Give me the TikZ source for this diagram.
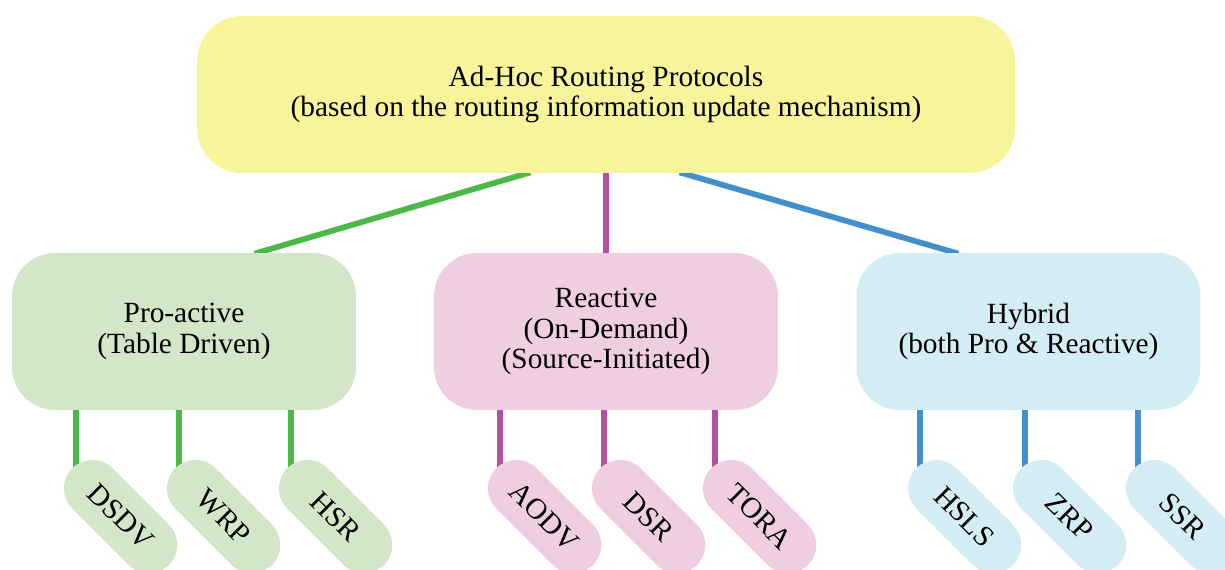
\documentclass[tikz,border=0pt]{standalone}
\usepackage{fontspec}
\setmainfont{Liberation Serif}
\usepackage{tikz}
\usetikzlibrary{shapes.misc,backgrounds}

\definecolor{topfill}{HTML}{F7F49C}
\definecolor{profill}{HTML}{D3E7C8}
\definecolor{reafill}{HTML}{EFCEE2}
\definecolor{hybfill}{HTML}{D4EDF4}
\definecolor{proline}{HTML}{4CB848}
\definecolor{realine}{HTML}{B5509E}
\definecolor{hybline}{HTML}{428FCC}

\tikzset{
  box/.style={rounded corners=0.86cm, minimum width=6.88cm, minimum height=3.14cm,
    align=center, font=\fontsize{16.7}{17.5}\selectfont},
  leaf/.style={rounded rectangle, minimum width=2.97cm, minimum height=1.14cm,
    rotate=-45, anchor=west, font=\fontsize{16.7}{17.5}\selectfont},
  link/.style={line width=0.115cm, shorten <=-2pt, shorten >=-2pt},
}

\begin{document}
\begin{tikzpicture}[x=0.02cm,y=-0.02cm]
  \path[use as bounding box, clip] (0,0) rectangle (1225,569);

  % glowny wezel
  \node[box, fill=topfill, minimum width=16.36cm, rounded corners=0.9cm] (top) at (606,94.5)
    {Ad-Hoc Routing Protocols\\(based on the routing information update mechanism)};

  % kategorie
  \node[box, fill=profill] (pro) at (184,331.5) {Pro-active\\(Table Driven)};
  \node[box, fill=reafill] (rea) at (606,331.5) {Reactive\\(On-Demand)\\(Source-Initiated)};
  \node[box, fill=hybfill] (hyb) at (1028.5,331.5) {Hybrid\\(both Pro \& Reactive)};

  % protokoly
  \node[leaf, fill=profill] (dsdv) at (72,468) {DSDV};
  \node[leaf, fill=profill] (wrp)  at (175,468) {WRP};
  \node[leaf, fill=profill] (hsr)  at (287,468) {HSR};
  \node[leaf, fill=reafill] (aodv) at (496,468) {AODV};
  \node[leaf, fill=reafill] (dsr)  at (600,468) {DSR};
  \node[leaf, fill=reafill] (tora) at (711,468) {TORA};
  \node[leaf, fill=hybfill] (hsls) at (916,468) {HSLS};
  \node[leaf, fill=hybfill] (zrp)  at (1021,468) {ZRP};
  \node[leaf, fill=hybfill] (ssr)  at (1134,468) {SSR};

  \begin{scope}[on background layer]
    % polaczenia
    \draw[link, proline] ([xshift=-1.58cm]top.south) -- ([xshift=1.48cm]pro.north);
    \draw[link, realine] (top.south) -- (rea.north);
    \draw[link, hybline] ([xshift=1.54cm]top.south) -- ([xshift=-1.47cm]hyb.north);

    \foreach \p/\l/\c in {pro/dsdv/proline, pro/wrp/proline, pro/hsr/proline,
        rea/aodv/realine, rea/dsr/realine, rea/tora/realine,
        hyb/hsls/hybline, hyb/zrp/hybline, hyb/ssr/hybline}
      \draw[link, \c] ([xshift=0.08cm]\l.west |- \p.center) -- ([xshift=0.08cm]\l.west);
  \end{scope}
\end{tikzpicture}
\end{document}
